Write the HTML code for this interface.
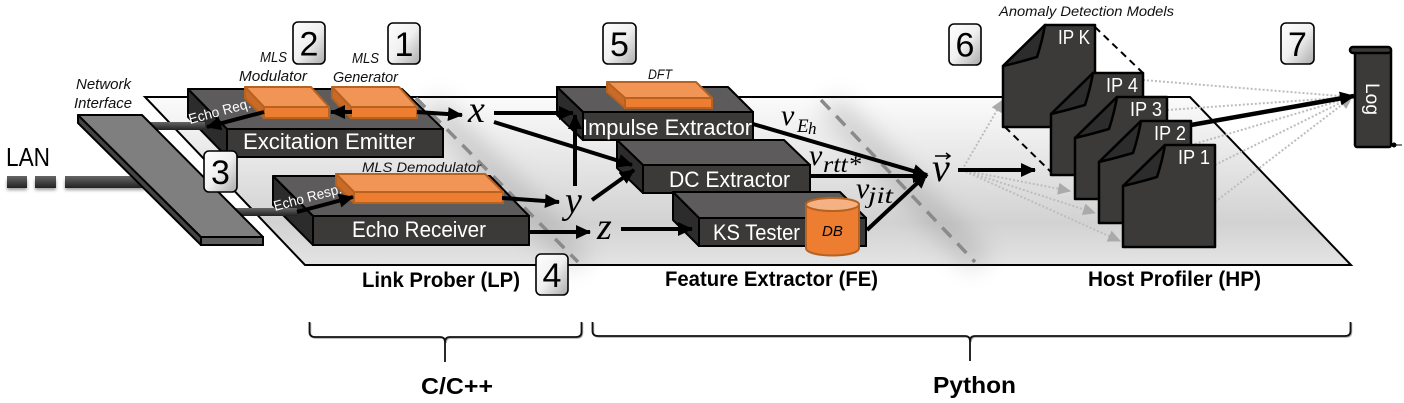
<!DOCTYPE html>
<html><head><meta charset="utf-8"><style>
html,body{margin:0;padding:0;background:#fff}
svg{display:block}
text{font-family:"Liberation Sans",sans-serif}
.w{fill:#fff;font-size:22px}
.i{font-style:italic;font-size:15px;fill:#111}
.b{font-weight:bold;font-size:21px;fill:#000}
.m{font-family:"Liberation Serif",serif;font-style:italic;fill:#000}
.n{font-size:34px;fill:#000;text-anchor:middle}
.ip{font-size:20px;fill:#fff}
.top{fill:#5d5b5c;stroke:#000;stroke-width:2;stroke-linejoin:round}
.side{fill:#2d2c2c;stroke:#000;stroke-width:2;stroke-linejoin:round}
.front{fill:#3b3a39;stroke:#000;stroke-width:2}
.ot{fill:#f19557;stroke:#b8621f;stroke-width:2;stroke-linejoin:round}
.of{fill:#ed7d31;stroke:#b8621f;stroke-width:2}
.os{fill:#c96a28;stroke:#b8621f;stroke-width:2;stroke-linejoin:round}
.doc{fill:#3b3a39;stroke:#000;stroke-width:2.5;stroke-linejoin:round}
.fold{fill:#2d2c2c;stroke:#000;stroke-width:2.5;stroke-linejoin:round}
.ar{stroke:#000;stroke-width:4;fill:none}
.dot{stroke:#bdbdbd;stroke-width:2;stroke-dasharray:2 2;fill:none}
.bad{fill:url(#gb);stroke:#000;stroke-width:1.6}
</style></head><body>
<svg width="1404" height="403" viewBox="0 0 1404 403" xmlns="http://www.w3.org/2000/svg">
<defs>
<linearGradient id="pl" x1="0" y1="0" x2="0" y2="1"><stop offset="0" stop-color="#fbfbfb"/><stop offset="0.75" stop-color="#d2d2d2"/><stop offset="1" stop-color="#e4e4e4"/></linearGradient>
<linearGradient id="gb" x1="0" y1="0" x2="1" y2="1"><stop offset="0" stop-color="#fff"/><stop offset="0.5" stop-color="#f0f0f0"/><stop offset="1" stop-color="#aaa"/></linearGradient>
<linearGradient id="lan" x1="0" y1="0" x2="0" y2="1"><stop offset="0" stop-color="#666"/><stop offset="1" stop-color="#222"/></linearGradient>
<filter id="bl" x="-40%" y="-40%" width="180%" height="180%"><feGaussianBlur stdDeviation="12"/></filter>
<filter id="bs" x="-10%" y="-100%" width="120%" height="300%"><feGaussianBlur stdDeviation="1.5"/></filter>
<marker id="a" markerUnits="userSpaceOnUse" markerWidth="16" markerHeight="14" refX="14" refY="7" orient="auto"><path d="M0 0L15 7L0 14z" fill="#000"/></marker>
<marker id="g" markerUnits="userSpaceOnUse" markerWidth="14" markerHeight="12" refX="12" refY="6" orient="auto"><path d="M0 0L13 6L0 12z" fill="#aaa"/></marker>
</defs>

<polygon points="145,97 1190,97 1351,265 305,265" fill="url(#pl)" stroke="#000" stroke-width="2"/>

<!-- dashed divider shadows -->
<path d="M430,105 L580,262" stroke="#777" stroke-width="26" opacity=".28" filter="url(#bl)" fill="none"/>
<path d="M830,105 L980,262" stroke="#777" stroke-width="26" opacity=".28" filter="url(#bl)" fill="none"/>
<path d="M416,98 L578,262" stroke="#8a8a8a" stroke-width="3.500" stroke-dasharray="13 9" fill="none"/>
<path d="M821,100 L975,262" stroke="#8a8a8a" stroke-width="3.500" stroke-dasharray="13 9" fill="none"/>

<!-- LAN -->
<g fill="#999" filter="url(#bs)">
<rect x="7" y="180" width="20" height="10"/><rect x="35" y="180" width="21" height="10"/><rect x="65" y="180" width="80" height="10"/>
</g>
<g fill="url(#lan)">
<rect x="7" y="176" width="20" height="12"/><rect x="35" y="176" width="21" height="12"/><rect x="65" y="176" width="80" height="12"/>
</g>
<text x="6" y="166" font-size="26" fill="#000" textLength="44" lengthAdjust="spacingAndGlyphs">LAN</text>

<!-- Excitation Emitter -->
<polygon class="top" points="188,89 402,89 443,129 227,129"/>
<polygon class="side" points="188,89 227,129 227,157 188,117"/>
<rect class="front" x="227" y="129" width="216" height="28"/>
<text class="w" x="243" y="149" textLength="172" lengthAdjust="spacingAndGlyphs">Excitation Emitter</text>

<!-- Echo Receiver -->
<polygon class="top" points="273,176 490,176 529,216 313,216"/>
<polygon class="side" points="273,176 313,216 313,245 273,205"/>
<rect class="front" x="313" y="216" width="216" height="29"/>
<text class="w" x="352" y="237" textLength="134" lengthAdjust="spacingAndGlyphs">Echo Receiver</text>

<!-- stubs -->
<rect x="140" y="122" width="65" height="8" fill="url(#lan)"/>
<rect x="235" y="208" width="62" height="8" fill="url(#lan)"/>

<!-- Network interface -->
<polygon points="78,115 78,123 201,245 201,237" fill="#444" stroke="#000" stroke-width="2" stroke-linejoin="round"/>
<polygon points="78,115 142,115 263,237 201,237" fill="#7f7f7f" stroke="#000" stroke-width="2" stroke-linejoin="round"/>
<rect x="201" y="237" width="62" height="8" fill="#5e5e5e" stroke="#000" stroke-width="2"/>
<text class="i" x="76" y="89" textLength="55" lengthAdjust="spacingAndGlyphs">Network</text>
<text class="i" x="74" y="108" textLength="58" lengthAdjust="spacingAndGlyphs">Interface</text>

<!-- Orange blocks -->
<polygon class="ot" points="245,87 311,87 329,107 264,107"/>
<polygon class="os" points="245,87 264,107 264,118 245,98"/>
<rect class="of" x="264" y="107" width="65" height="11"/>
<polygon class="ot" points="332,87 399,87 417,107 351,107"/>
<polygon class="os" points="332,87 351,107 351,118 332,98"/>
<rect class="of" x="351" y="107" width="66" height="11"/>
<polygon class="ot" points="336,174 485,174 503,192 354,192"/>
<polygon class="os" points="336,174 354,192 354,203 336,185"/>
<rect class="of" x="354" y="192" width="149" height="11"/>
<text class="i" x="260" y="62" textLength="27" lengthAdjust="spacingAndGlyphs">MLS</text>
<text class="i" x="239" y="81" textLength="68" lengthAdjust="spacingAndGlyphs">Modulator</text>
<text class="i" x="352" y="63" textLength="27" lengthAdjust="spacingAndGlyphs">MLS</text>
<text class="i" x="333" y="82" textLength="65" lengthAdjust="spacingAndGlyphs">Generator</text>
<text class="i" x="362" y="172" textLength="119" lengthAdjust="spacingAndGlyphs" style="font-size:14px">MLS Demodulator</text>

<!-- Echo labels and arrows -->
<line x1="264" y1="112" x2="207" y2="127" class="ar" marker-end="url(#a)"/>
<line x1="297" y1="212" x2="353" y2="197" class="ar" marker-end="url(#a)"/>
<text transform="translate(190,124) rotate(-15)" font-size="14" fill="#fff" textLength="64" lengthAdjust="spacingAndGlyphs">Echo Req.</text>
<text transform="translate(275,211) rotate(-15)" font-size="14" fill="#fff" textLength="70" lengthAdjust="spacingAndGlyphs">Echo Resp.</text>
<line x1="352" y1="112" x2="331" y2="112" class="ar" marker-end="url(#a)"/>
<line x1="417" y1="112" x2="462" y2="115" class="ar" marker-end="url(#a)"/>

<!-- Impulse -->
<polygon class="top" points="557,87 728,87 753,112 583,112"/>
<polygon class="side" points="557,87 583,112 583,140 557,115"/>
<rect class="front" x="583" y="112" width="170" height="28"/>
<text class="w" x="582" y="135" textLength="170" lengthAdjust="spacingAndGlyphs">Impulse Extractor</text>
<polygon class="ot" points="607,82 696,82 712,98 625,98"/>
<polygon class="os" points="607,82 625,98 625,108 607,92"/>
<rect class="of" x="625" y="98" width="87" height="10"/>
<text class="i" x="648" y="79" textLength="24" lengthAdjust="spacingAndGlyphs" style="font-size:14px">DFT</text>

<!-- DC -->
<polygon class="top" points="617,140 784,140 810,165 643,165"/>
<polygon class="side" points="617,140 643,165 643,193 617,168"/>
<rect class="front" x="643" y="165" width="167" height="28"/>
<text class="w" x="669" y="187" textLength="121" lengthAdjust="spacingAndGlyphs">DC Extractor</text>

<!-- KS -->
<polygon class="top" points="673,192 840,192 866,218 699,218"/>
<polygon class="side" points="673,192 699,218 699,246 673,220"/>
<rect class="front" x="699" y="218" width="167" height="28"/>
<text class="w" x="713" y="240" textLength="87" lengthAdjust="spacingAndGlyphs">KS Tester</text>

<!-- DB -->
<path d="M806,205 L806,248 C806,258 859,258 859,248 L859,205 Z" fill="#ed7d31" stroke="#b8621f" stroke-width="2"/>
<ellipse cx="832.500" cy="204.500" rx="26.500" ry="6.500" fill="#f4b183" stroke="#b8621f" stroke-width="2"/>
<text x="822" y="236" font-size="15" font-style="italic" fill="#000">DB</text>

<!-- flow arrows -->
<line x1="494" y1="113" x2="573" y2="113" class="ar" marker-end="url(#a)"/>
<line x1="494" y1="122" x2="632" y2="165" class="ar" marker-end="url(#a)"/>
<line x1="575" y1="186" x2="575" y2="115" class="ar" marker-end="url(#a)"/>
<line x1="592" y1="200" x2="634" y2="170" class="ar" marker-end="url(#a)"/>
<line x1="502" y1="198" x2="559" y2="202" class="ar" marker-end="url(#a)"/>
<line x1="529" y1="232" x2="590" y2="232" class="ar" marker-end="url(#a)"/>
<line x1="621" y1="229" x2="692" y2="229" class="ar" marker-end="url(#a)"/>
<line x1="753" y1="124" x2="927" y2="175" class="ar" marker-end="url(#a)"/>
<line x1="810" y1="176" x2="927" y2="176" class="ar" marker-end="url(#a)"/>
<line x1="867" y1="230" x2="927" y2="174" class="ar" marker-end="url(#a)"/>

<!-- math -->
<text class="m" x="468" y="122" font-size="38">x</text>
<text class="m" x="565" y="213" font-size="38">y</text>
<text class="m" x="597" y="239" font-size="38">z</text>
<text class="m" x="781" y="125" font-size="30">v</text>
<text class="m" x="797" y="132" font-size="19">E</text>
<text class="m" x="808" y="134" font-size="17">h</text>
<text class="m" x="809" y="165" font-size="30">v</text>
<text class="m" x="823" y="172" font-size="23" textLength="38" lengthAdjust="spacingAndGlyphs">rtt*</text>
<text class="m" x="856" y="198" font-size="30">v</text>
<text class="m" x="868" y="203" font-size="23" textLength="25" lengthAdjust="spacingAndGlyphs">jit</text>
<text class="m" x="932" y="181" font-size="40">v</text>
<path d="M935,156 L950,156 M946,153 L950,156 L946,159" stroke="#000" stroke-width="1.500" fill="none"/>

<!-- dotted lines -->
<line x1="962" y1="170" x2="1003" y2="100" class="dot" marker-end="url(#g)"/>
<line x1="962" y1="170" x2="1070" y2="191" class="dot" marker-end="url(#g)"/>
<line x1="962" y1="170" x2="1095" y2="213" class="dot" marker-end="url(#g)"/>
<line x1="962" y1="170" x2="1120" y2="241" class="dot" marker-end="url(#g)"/>
<line x1="1143" y1="80" x2="1352" y2="97" class="dot"/>
<line x1="1167" y1="110" x2="1352" y2="97" class="dot"/>
<line x1="1191" y1="145" x2="1352" y2="97" class="dot"/>
<line x1="1215" y1="165" x2="1352" y2="97" class="dot"/>
<line x1="1215" y1="202" x2="1352" y2="97" class="dot" marker-end="url(#g)"/>
<line x1="958" y1="170" x2="1035" y2="170" class="ar" marker-end="url(#a)"/>

<!-- documents -->
<path d="M1095,27 L1143,73 M1005,127 L1051,172" stroke="#000" stroke-width="2" stroke-dasharray="7 5" fill="none"/>
<g>
<path class="doc" d="M1045,25 H1095 V127 H1003 V66 Z"/>
<path class="fold" d="M1045,25 Q1042,42 1037,57 Q1020,62 1003,66 Z"/>
<text class="ip" x="1058" y="44" textLength="32" lengthAdjust="spacingAndGlyphs">IP K</text>
</g>
<g>
<path class="doc" d="M1093,73 H1143 V175 H1051 V114 Z"/>
<path class="fold" d="M1093,73 Q1090,90 1085,105 Q1068,110 1051,114 Z"/>
<text class="ip" x="1106" y="92" textLength="32" lengthAdjust="spacingAndGlyphs">IP 4</text>
</g>
<g>
<path class="doc" d="M1117,97 H1167 V199 H1075 V138 Z"/>
<path class="fold" d="M1117,97 Q1114,114 1109,129 Q1092,134 1075,138 Z"/>
<text class="ip" x="1130" y="116" textLength="32" lengthAdjust="spacingAndGlyphs">IP 3</text>
</g>
<g>
<path class="doc" d="M1141,121 H1191 V223 H1099 V162 Z"/>
<path class="fold" d="M1141,121 Q1138,138 1133,153 Q1116,158 1099,162 Z"/>
<text class="ip" x="1154" y="140" textLength="32" lengthAdjust="spacingAndGlyphs">IP 2</text>
</g>
<g>
<path class="doc" d="M1165,145 H1215 V247 H1123 V186 Z"/>
<path class="fold" d="M1165,145 Q1162,162 1157,177 Q1140,182 1123,186 Z"/>
<text class="ip" x="1178" y="164" textLength="32" lengthAdjust="spacingAndGlyphs">IP 1</text>
</g>
<text class="i" x="999" y="16" textLength="175" lengthAdjust="spacingAndGlyphs" style="font-size:14px">Anomaly Detection Models</text>

<line x1="1191" y1="125" x2="1354" y2="96" stroke="#000" stroke-width="4.500" marker-end="url(#a)"/>

<!-- Log -->
<rect x="1355" y="49" width="36" height="98" rx="2" fill="#3b3a39" stroke="#000" stroke-width="2.500"/>
<rect x="1350" y="47" width="41" height="6" rx="3" fill="#3b3a39" stroke="#000" stroke-width="2.500"/>
<circle cx="1394" cy="145" r="2.500" fill="#000"/>
<line x1="1394" y1="145" x2="1402" y2="145" stroke="#000" stroke-width="1"/>
<text transform="translate(1366,83) rotate(90)" font-size="19" fill="#fff" textLength="32" lengthAdjust="spacingAndGlyphs">Log</text>

<!-- badges -->
<rect class="bad" x="293" y="22" width="32" height="42" rx="5"/><text class="n" x="309" y="55.500">2</text>
<rect class="bad" x="388" y="23" width="32" height="41" rx="5"/><text class="n" x="404" y="56">1</text>
<rect class="bad" x="204" y="151" width="33" height="41" rx="5"/><text class="n" x="220.500" y="184">3</text>
<rect class="bad" x="536" y="254" width="32" height="41" rx="5"/><text class="n" x="552" y="287">4</text>
<rect class="bad" x="603" y="23" width="33" height="41" rx="5"/><text class="n" x="619.500" y="56">5</text>
<rect class="bad" x="949" y="24" width="32" height="41" rx="5"/><text class="n" x="965" y="56.500">6</text>
<rect class="bad" x="1281" y="23" width="33" height="41" rx="5"/><text class="n" x="1297.500" y="56">7</text>

<!-- section labels -->
<text class="b" x="362" y="287" textLength="158" lengthAdjust="spacingAndGlyphs">Link Prober (LP)</text>
<text class="b" x="665" y="286" textLength="213" lengthAdjust="spacingAndGlyphs">Feature Extractor (FE)</text>
<text class="b" x="1088" y="286" textLength="173" lengthAdjust="spacingAndGlyphs">Host Profiler (HP)</text>

<!-- braces -->
<g fill="none" stroke="#aaa" stroke-width="1.500" transform="translate(1,1)">
<path d="M309.500,322 V332 Q309.500,337 315,337 H440 Q445,337 445,342 Q445,337 450,337 H576 Q581.500,337 581.500,332 V322"/>
<path d="M592.500,322 V331 Q592.500,336 598,336 H965 Q970,336 970,341 Q970,336 975,336 H1345 Q1350.500,336 1350.500,331 V322"/>
</g>
<path d="M309.500,322 V332 Q309.500,337 315,337 H440 Q445,337 445,342 Q445,337 450,337 H576 Q581.500,337 581.500,332 V322 M445,342 V362" fill="none" stroke="#111" stroke-width="1.800"/>
<path d="M592.500,322 V331 Q592.500,336 598,336 H965 Q970,336 970,341 Q970,336 975,336 H1345 Q1350.500,336 1350.500,331 V322 M970,341 V361" fill="none" stroke="#111" stroke-width="1.800"/>
<text class="b" x="421" y="394" style="font-size:23px" textLength="72" lengthAdjust="spacingAndGlyphs">C/C++</text>
<text class="b" x="933" y="393" style="font-size:23px" textLength="83" lengthAdjust="spacingAndGlyphs">Python</text>
</svg>
</body></html>
